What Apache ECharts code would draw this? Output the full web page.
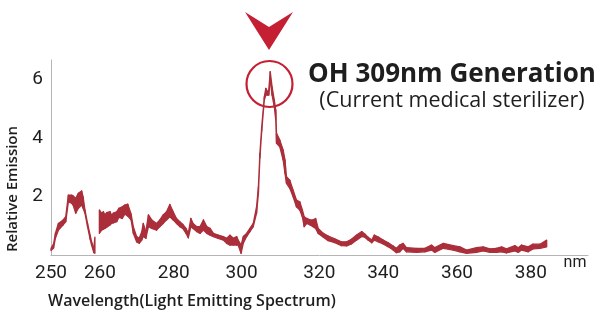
<!DOCTYPE html>
<html>
<head>
<meta charset="utf-8">
<title>OH 309nm Generation</title>
<script src="https://cdn.jsdelivr.net/npm/echarts@6.0.0/dist/echarts.min.js"></script>
<style>
    html, body { margin: 0; padding: 0; background: #fff; }
    #spectrumChart { width: 599px; height: 311px; }
</style>
</head>
<body>
<div id="spectrumChart"></div>
<script>
// 采样波长 (nm)，null 那一行是曲线断开的地方
const wavelengths = [
    250.0, 250.7, 251.2, 252.0, 253.3, 254.0, 254.7, 255.6, 256.0, 256.7,
    257.4, 258.3, 258.7, 259.2, 259.9, 260.6, 261.0, 261.6, 261.9, 262.5,
    263.1, 263.7, 264.2, 264.6, 265.1, 266.0, 266.4, 266.9, 267.8, 268.4,
    269.3, 270.0, 270.8, 271.7, 272.3, 273.2, 273.9, 274.6, 275.0, 275.7,
    276.4, 277.3, 278.6, 279.5, 280.4, 281.3, 282.2, 283.1, 284.0, 284.9,
    285.7, 286.6, 287.2, 287.9, 288.5, 289.5, 290.4, 291.3, 292.2, 293.1,
    294.0, 295.3, 296.7, 297.6, 298.5, 299.4, 300.3, 300.7, 301.5, 302.1,
    303.0, 303.9, 304.8, 305.7, 306.2, 306.6, 307.1, 307.8, 308.2, 308.7,
    309.0, 309.4, 309.9, 310.5, 310.9, 311.1, 312.0, 312.9, 313.4, 313.8,
    314.7, 315.6, 316.5, 317.4, 318.1, 318.6, 319.3, 320.2, 321.0, 321.7,
    322.4, 323.8, 325.1, 326.9, 328.7, 330.1, 331.4, 332.8, 334.2, 335.0,
    335.9, 336.9, 337.6, 338.7, 340.0, 341.4, 342.7, 343.6, 344.5, 345.4,
    346.3, 349.1, 351.3, 353.1, 354.0, 356.3, 359.0, 360.8, 362.6, 365.3,
    367.1, 368.9, 370.7, 372.1, 373.4, 375.7, 376.6, 377.5, 379.3, 380.6,
    382.5, 384.3
];

// 光谱带的上沿
const upperEdge = [
    0.23, 0.38, 0.75, 1.08, 1.20, 1.31, 2.05, 2.05, 2.02, 1.94,
    2.11, 2.19, 1.99, 1.54, 1.08, 0.68, 0.45, 0.23, 0.61, null,
    1.54, 1.43, 1.48, 1.37, 1.45, 1.48, 1.37, 1.43, 1.48, 1.60,
    1.65, 1.71, 1.74, 1.40, 0.97, 0.63, 0.57, 0.80, 1.08, 0.80,
    1.37, 1.20, 1.08, 1.20, 1.37, 1.48, 1.73, 1.48, 1.25, 1.14,
    1.05, 0.91, 0.74, 1.25, 1.08, 0.97, 0.97, 1.20, 0.97, 0.91,
    0.74, 0.68, 0.63, 0.57, 0.68, 0.57, 0.63, 0.51, 0.34, 0.63,
    0.74, 0.91, 1.08, 1.65, 2.34, 3.48, 4.39, 5.41, 5.70, 5.58,
    5.64, 6.27, 5.75, 5.30, 4.96, 4.16, 3.93, 3.59, 3.25, 2.68,
    2.56, 2.22, 1.88, 1.82, 1.54, 1.31, 1.25, 1.20, 1.20, 1.25,
    0.91, 0.74, 0.65, 0.55, 0.45, 0.45, 0.54, 0.68, 0.80, 0.72,
    0.61, 0.51, 0.68, 0.61, 0.51, 0.42, 0.31, 0.23, 0.34, 0.40,
    0.25, 0.23, 0.23, 0.34, 0.25, 0.40, 0.32, 0.28, 0.17, 0.25,
    0.28, 0.21, 0.23, 0.28, 0.21, 0.32, 0.25, 0.34, 0.28, 0.37,
    0.37, 0.51
];

// 光谱带的下沿
const lowerEdge = [
    0.15, 0.24, 0.58, 0.85, 1.03, 1.14, 1.82, 1.77, 1.71, 1.43,
    1.60, 1.71, 1.60, 1.43, 0.97, 0.54, 0.34, 0.08, 0.06, null,
    0.74, 0.85, 0.88, 0.91, 0.95, 1.03, 1.08, 1.10, 1.14, 1.29,
    1.25, 1.40, 1.33, 1.20, 0.74, 0.45, 0.40, 0.51, 0.63, 0.57,
    0.97, 0.91, 0.85, 0.97, 1.08, 1.20, 1.31, 1.20, 1.08, 0.97,
    0.91, 0.74, 0.59, 0.97, 0.91, 0.80, 0.74, 0.85, 0.74, 0.68,
    0.63, 0.57, 0.51, 0.40, 0.34, 0.34, 0.34, 0.34, 0.06, 0.40,
    0.63, 0.80, 0.97, 1.43, 2.11, 3.32, 4.24, 5.30, 5.47, 5.47,
    5.47, 5.98, 5.47, 5.07, 4.62, 3.82, 3.70, 3.25, 2.79, 2.45,
    2.28, 1.99, 1.65, 1.54, 1.31, 0.97, 1.08, 1.03, 0.97, 0.91,
    0.74, 0.61, 0.49, 0.42, 0.32, 0.31, 0.38, 0.51, 0.63, 0.61,
    0.51, 0.42, 0.51, 0.45, 0.38, 0.28, 0.17, 0.08, 0.11, 0.23,
    0.11, 0.09, 0.11, 0.17, 0.09, 0.23, 0.17, 0.11, 0.06, 0.09,
    0.14, 0.09, 0.09, 0.11, 0.07, 0.14, 0.09, 0.17, 0.11, 0.21,
    0.23, 0.28
];

const xTickLabels = [250, 260, 280, 300, 320, 340, 360, 380];
const yTickLabels = [2, 4, 6];

const bandColor = '#ab2f3b';
const markColor = '#c51f33';
const textColor = '#1e1e1e';

// 原图里几个刻度文字略往右偏，用 rich 的 padding 微调
const labelNudge = { 260: 's12', 280: 's12', 300: 's6', 320: 's10' };

function initSpectrumChart() {
    const chart = echarts.init(document.getElementById('spectrumChart'));

    const bandData = wavelengths.map((w, i) => [w, lowerEdge[i], upperEdge[i]]);

    // 每两个相邻采样点之间画一个四边形，拼成整条光谱带
    function renderBand(params, api) {
        const i = params.dataIndex;
        const j = i + 1;
        if (j >= wavelengths.length || upperEdge[i] == null || upperEdge[j] == null) {
            return null;
        }
        const points = [
            api.coord([wavelengths[i], upperEdge[i]]),
            api.coord([wavelengths[j], upperEdge[j]]),
            api.coord([wavelengths[j], lowerEdge[j]]),
            api.coord([wavelengths[i], lowerEdge[i]])
        ];
        return {
            type: 'polygon',
            shape: { points: points },
            style: {
                fill: bandColor,
                stroke: bandColor,
                lineWidth: 1.3,
                lineJoin: 'round'
            }
        };
    }

    const option = {
        animation: false,
        grid: { left: 51, right: 11, top: 60, bottom: 56 },
        xAxis: {
            type: 'value',
            min: 250,
            max: 395.5,
            splitLine: { show: false },
            axisTick: { show: false },
            axisLine: { show: true, lineStyle: { color: '#b5b5b5', width: 1 } },
            axisLabel: {
                customValues: xTickLabels,
                margin: 9,
                fontFamily: 'Roboto',
                fontSize: 19,
                color: textColor,
                formatter: function (value) {
                    const key = labelNudge[value];
                    return key ? '{' + key + '|' + value + '}' : String(value);
                },
                rich: {
                    s6: { padding: [0, 0, 0, 12] },
                    s10: { padding: [0, 0, 0, 20] },
                    s12: { padding: [0, 0, 0, 24] }
                }
            }
        },
        yAxis: {
            type: 'value',
            min: 0,
            max: 6.67,
            splitLine: { show: false },
            axisTick: { show: false },
            axisLine: { show: true, lineStyle: { color: '#b5b5b5', width: 1 } },
            axisLabel: {
                customValues: yTickLabels,
                margin: 8,
                fontFamily: 'Roboto',
                fontSize: 19,
                color: textColor
            }
        },
        series: [
            {
                name: 'Relative Emission',
                type: 'custom',
                renderItem: renderBand,
                encode: { x: 0, y: [1, 2] },
                data: bandData,
                silent: true
            }
        ],
        graphic: [
            // 顶部倒三角箭头
            {
                type: 'polygon',
                shape: { points: [[245, 12], [269, 27], [293, 12], [269, 50]] },
                style: { fill: markColor }
            },
            // 峰值圆圈
            {
                type: 'circle',
                shape: { cx: 269.5, cy: 84, r: 23 },
                style: { fill: 'none', stroke: markColor, lineWidth: 2.2 }
            },
            {
                type: 'text',
                x: 452, y: 75,
                style: {
                    text: 'OH 309nm Generation',
                    fontFamily: 'Open Sans',
                    fontWeight: 700,
                    fontSize: 26,
                    fill: textColor,
                    align: 'center',
                    verticalAlign: 'middle'
                }
            },
            {
                type: 'text',
                x: 452, y: 101,
                style: {
                    text: '(Current medical sterilizer)',
                    fontFamily: 'Open Sans',
                    fontSize: 21.5,
                    fill: textColor,
                    align: 'center',
                    verticalAlign: 'middle'
                }
            },
            {
                type: 'text',
                x: 13, y: 189,
                rotation: Math.PI / 2,
                style: {
                    text: 'Relative Emission',
                    fontFamily: 'Open Sans',
                    fontWeight: 600,
                    fontSize: 15,
                    fill: textColor,
                    align: 'center',
                    verticalAlign: 'middle'
                }
            },
            {
                type: 'text',
                x: 48, y: 301,
                style: {
                    text: 'Wavelength(Light Emitting Spectrum)',
                    fontFamily: 'Open Sans',
                    fontWeight: 600,
                    fontSize: 16,
                    fill: textColor,
                    align: 'left',
                    verticalAlign: 'middle'
                }
            },
            {
                type: 'text',
                x: 575, y: 263,
                style: {
                    text: 'nm',
                    fontFamily: 'Roboto',
                    fontSize: 16,
                    fill: textColor,
                    align: 'center',
                    verticalAlign: 'middle'
                }
            }
        ]
    };

    chart.setOption(option);

    window.addEventListener('resize', function () {
        chart.resize();
    });
}

document.addEventListener('DOMContentLoaded', initSpectrumChart);
</script>
</body>
</html>
